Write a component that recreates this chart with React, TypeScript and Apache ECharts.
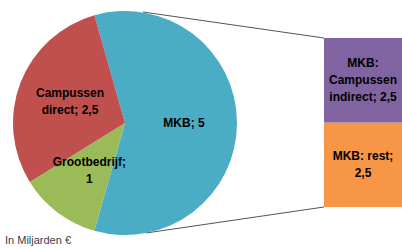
import React, { useEffect, useRef } from "react";
import * as echarts from "echarts";

const pieNames = ["MKB", "Grootbedrijf", "Campussen direct"];
const pieValues = [5, 1, 2.5];
const pieLabels = ["MKB; 5", "Grootbedrijf;\n1", "Campussen\ndirect; 2,5"];
const pieColors = ["#4BACC6", "#9BBB59", "#C0504D"];

const barNames = ["MKB: rest", "MKB: Campussen indirect"];
const barValues = [2.5, 2.5];
const barLabels = ["MKB: rest;\n2,5", "MKB:\nCampussen\nindirect; 2,5"];
const barColors = ["#F79646", "#8064A2"];

export default function App() {
  const ref = useRef<HTMLDivElement>(null);
  useEffect(() => {
    if (!ref.current) return;
    const chart = echarts.init(ref.current, null, { renderer: "svg" });
    const total = pieValues.reduce((a, b) => a + b, 0);
    const startAngle = (pieValues[0] / total) * 180;
    const font = "Liberation Sans";
    chart.setOption({
      animation: false,
      grid: { left: 324, top: 38, width: 92, bottom: 42 },
      xAxis: { type: "category", data: [""], show: false },
      yAxis: { type: "value", min: 0, max: 5, show: false },
      series: [
        {
          type: "pie",
          center: [125, 123],
          radius: [0, 112],
          startAngle,
          clockwise: true,
          data: pieValues.map((v, i) => ({
            name: pieNames[i],
            value: v,
            itemStyle: { color: pieColors[i] },
            label: { formatter: pieLabels[i] },
          })),
          label: {
            show: true,
            position: "inside",
            color: "#000",
            fontWeight: "bold",
            fontSize: 12,
            lineHeight: 17,
            fontFamily: font,
          },
          labelLine: { show: false },
          emphasis: { disabled: true },
        },
        ...barValues.map((v, i) => ({
          type: "bar",
          stack: "s",
          name: barNames[i],
          data: [v],
          barWidth: "100%",
          itemStyle: { color: barColors[i] },
          label: {
            show: true,
            position: "inside",
            formatter: barLabels[i],
            color: "#000",
            fontWeight: "bold",
            fontSize: 12,
            lineHeight: 17,
            fontFamily: font,
          },
          emphasis: { disabled: true },
        })),
      ],
      graphic: [
        {
          type: "line",
          shape: { x1: 143, y1: 12, x2: 324, y2: 38 },
          style: { stroke: "#555", lineWidth: 1 },
        },
        {
          type: "line",
          shape: { x1: 146, y1: 233, x2: 324, y2: 207 },
          style: { stroke: "#555", lineWidth: 1 },
        },
        {
          type: "text",
          left: 5,
          top: 234,
          style: {
            text: "In Miljarden €",
            fontSize: 11,
            fontFamily: font,
            fill: "#404040",
          },
        },
      ],
    });
    return () => chart.dispose();
  }, []);
  return (
    <div
      ref={ref}
      style={{ position: "fixed", left: 0, top: 0, width: 402, height: 249, background: "#fff" }}
    />
  );
}
